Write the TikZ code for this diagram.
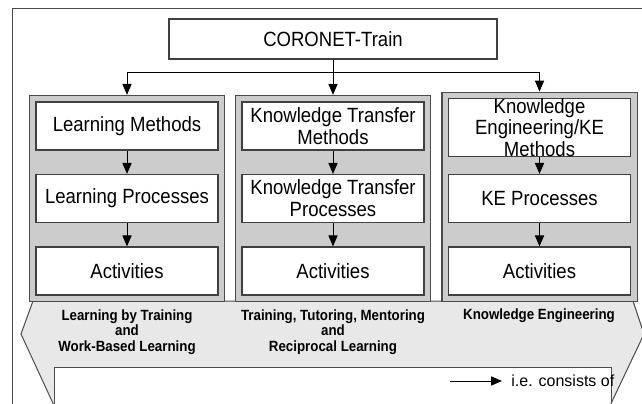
\documentclass[tikz,border=0pt]{standalone}
\usepackage{fontspec}
\setmainfont{Liberation Sans}
\newfontfamily\narrowsans[FakeStretch=0.9]{Liberation Sans}
\usetikzlibrary{arrows.meta, positioning, fit, backgrounds}

\begin{document}
\begin{tikzpicture}[x=0.5pt, y=-0.5pt,
    box/.style={draw=black!75, fill=white, line width=0.6pt, minimum width=91pt, minimum height=24pt,
        align=center, inner sep=1pt, font=\narrowsans\fontsize{10.3}{11}\selectfont},
    panel/.style={draw=black!70, fill=black!20, line width=0.6pt, inner sep=3pt},
    arr/.style={-{Triangle[length=5.5pt, width=4.6pt]}, line width=0.5pt},
    band/.style={align=center, font=\narrowsans\bfseries\fontsize{7.4}{7.75}\selectfont}]
    \useasboundingbox (0,0) rectangle (642,403);
    \clip (0,0) rectangle (642,403);

    \node[box, minimum width=164pt, minimum height=20pt] (top) at (333,39) {CORONET-Train};

    % three columns of boxes
    \node[box] (lm) at (127,126) {Learning Methods};
    \node[box] (lp) at (127,198.5) {Learning Processes};
    \node[box] (la) at (127,271) {Activities};
    \node[box] (ktm) at (333,126) {Knowledge Transfer\\Methods};
    \node[box] (ktp) at (333,198.5) {Knowledge Transfer\\Processes};
    \node[box] (kta) at (333,271) {Activities};
    \node[box, minimum height=25.5pt, inner ysep=0pt, font=\narrowsans\fontsize{10.3}{8.5}\selectfont]
        (kem) at (539.5,127.5) {Knowledge\\Engineering/KE\\Methods};
    \node[box] (kep) at (539.5,198.5) {KE Processes};
    \node[box] (kea) at (539.5,271) {Activities};

    \begin{scope}[on background layer]
        \draw[black!70, line width=0.5pt] (12,8) rectangle (700,450);
        % band under the columns, with its white lower part
        \def\bandpath{(33,301) -- (633,301) -- (644,334) -- (607,412) -- (57,412) -- (21,334) -- cycle}
        \fill[black!9] \bandpath;
        \begin{scope}
            \clip \bandpath;
            \draw[black!70, fill=white, line width=0.5pt] (54,367) rectangle (611,420);
        \end{scope}
        \draw[black!70, line width=0.5pt] \bandpath;
        \node[panel, fit=(lm)(la)] (p1) {};
        \node[panel, fit=(ktm)(kta)] (p2) {};
        \node[panel, fit=(kem)(kea)] (p3) {};
    \end{scope}

    \coordinate (split) at (333,72);
    \draw[arr] (top) -- (p2);
    \draw[arr] (split) -| (p1.north);
    \draw[arr] (split) -| (p3.north);
    \foreach \a/\b in {lm/lp, lp/la, ktm/ktp, ktp/kta, kem/kep, kep/kea}
        \draw[arr] (\a) -- (\b);

    \node[band] (lbt) at (127,332) {Learning by Training\\and\\Work-Based Learning};
    \node[band] (ttm) at (333,332) {Training, Tutoring, Mentoring\\and\\Reciprocal Learning};
    \node[band] (keng) at (539,316) {Knowledge Engineering};

    % legend
    \node[anchor=west, inner xsep=4.5pt, inner ysep=1pt, font=\fontsize{8}{10}\selectfont]
        (legend) at (502,381) {i.e. consists of};
    \coordinate (legtail) at (450,381);
    \draw[arr] (legtail) -- (legend);
\end{tikzpicture}
\end{document}
